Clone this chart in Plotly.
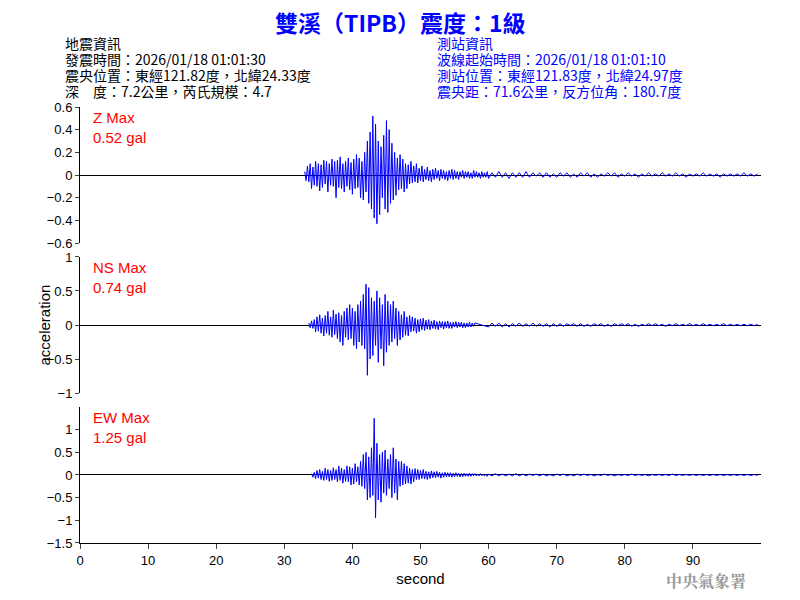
import numpy as np
import plotly.graph_objects as go

# seismogram: peak values, 0.2 s apart from onset to 60 s, then 0.5 s apart
main_step = 0.2
coda_step = 0.5
coda_start = 60.0

z_onset = 33.0
z_main = [
    0.03, -0.05, 0.08, -0.06, 0.1, -0.12, 0.07, -0.09, 0.12, -0.1,
    0.1, -0.14, 0.09, -0.11, 0.13, -0.08, 0.12, -0.15, 0.1, -0.09,
    0.14, -0.1, 0.12, -0.2, 0.13, -0.11, 0.16, -0.12, 0.1, -0.15,
    0.12, -0.1, 0.15, -0.13, 0.11, -0.17, 0.14, -0.12, 0.18, -0.11,
    0.15, -0.2, 0.12, -0.22, 0.2, -0.15, 0.3, -0.25, 0.38, -0.3,
    0.52, -0.38, 0.45, -0.43, 0.3, -0.35, 0.25, -0.2, 0.35, -0.3,
    0.48, -0.33, 0.4, -0.25, 0.28, -0.22, 0.2, -0.18, 0.15, -0.13,
    0.18, -0.12, 0.14, -0.15, 0.1, -0.12, 0.09, -0.08, 0.12, -0.07,
    0.08, -0.06, 0.1, -0.07, 0.06, -0.05, 0.08, -0.06, 0.05, -0.04,
    0.07, -0.05, 0.04, -0.06, 0.05, -0.04, 0.06, -0.03, 0.04, -0.05,
    0.05, -0.03, 0.04, -0.04, 0.03, -0.05, 0.04, -0.03, 0.05, -0.04,
    0.04, -0.03, 0.03, -0.04, 0.03, -0.02, 0.04, -0.03, 0.03, -0.02,
    0.03, -0.03, 0.02, -0.03, 0.04, -0.02, 0.03, -0.02, 0.02, -0.03,
    0.03, -0.02, 0.02, -0.02, 0.03,
]
z_coda = [
    -0.03, 0.02, -0.02, 0.03, -0.02, 0.02, -0.03, 0.02, -0.02, 0.02,
    -0.02, 0.03, -0.02, 0.02, -0.01, 0.02, -0.02, 0.02, -0.02, 0.01,
    -0.02, 0.02, -0.01, 0.02, -0.02, 0.01, -0.02, 0.02, -0.01, 0.02,
    -0.02, 0.01, -0.02, 0.01, -0.01, 0.02, -0.01, 0.02, -0.02, 0.01,
    -0.01, 0.02, -0.01, 0.01, -0.02, 0.01, -0.01, 0.02, -0.01, 0.01,
    -0.01, 0.02, -0.01, 0.01, -0.01, 0.02, -0.01, 0.01, -0.02, 0.01,
    -0.01, 0.01, -0.01, 0.02, -0.01, 0.01, -0.01, 0.01, -0.02, 0.01,
    -0.01, 0.01, -0.01, 0.01, -0.01, 0.02, -0.01, 0.01, -0.01, 0.01,
]

ns_onset = 33.6
ns_main = [
    0.03, -0.04, 0.06, -0.05, 0.08, -0.1, 0.12, -0.09, 0.15, -0.12,
    0.1, -0.16, 0.14, -0.12, 0.2, -0.15, 0.12, -0.18, 0.22, -0.14,
    0.16, -0.2, 0.18, -0.25, 0.14, -0.3, 0.2, -0.18, 0.25, -0.22,
    0.3, -0.2, 0.25, -0.3, 0.2, -0.35, 0.3, -0.25, 0.35, -0.3,
    0.45, -0.35, 0.6, -0.74, 0.55, -0.5, 0.4, -0.45, 0.35, -0.3,
    0.5, -0.55, 0.4, -0.35, 0.3, -0.6, 0.45, -0.4, 0.35, -0.3,
    0.3, -0.25, 0.35, -0.2, 0.25, -0.3, 0.2, -0.22, 0.15, -0.18,
    0.2, -0.15, 0.12, -0.16, 0.14, -0.1, 0.12, -0.09, 0.1, -0.12,
    0.08, -0.1, 0.09, -0.07, 0.1, -0.08, 0.07, -0.06, 0.08, -0.07,
    0.06, -0.05, 0.07, -0.06, 0.05, -0.07, 0.06, -0.04, 0.05, -0.06,
    0.05, -0.04, 0.06, -0.05, 0.04, -0.05, 0.04, -0.03, 0.05, -0.04,
    0.04, -0.03, 0.04, -0.04, 0.03, -0.04, 0.03, -0.03, 0.04, -0.03,
    0.03, -0.02, 0.03,
]
ns_coda = [
    -0.03, 0.03, -0.02, 0.03, -0.03, 0.02, -0.03, 0.02, -0.02, 0.03,
    -0.02, 0.02, -0.02, 0.03, -0.02, 0.02, -0.02, 0.02, -0.03, 0.02,
    -0.02, 0.02, -0.02, 0.02, -0.01, 0.02, -0.02, 0.02, -0.02, 0.01,
    -0.02, 0.02, -0.01, 0.02, -0.02, 0.01, -0.02, 0.02, -0.01, 0.02,
    -0.01, 0.02, -0.02, 0.01, -0.02, 0.01, -0.01, 0.02, -0.01, 0.02,
    -0.01, 0.01, -0.02, 0.01, -0.01, 0.02, -0.01, 0.01, -0.01, 0.02,
    -0.01, 0.01, -0.01, 0.02, -0.01, 0.01, -0.01, 0.01, -0.01, 0.02,
    -0.01, 0.01, -0.01, 0.01, -0.01, 0.01, -0.01, 0.01, -0.01, 0.01,
]

ew_onset = 34.0
ew_main = [
    0.03, -0.05, 0.06, -0.08, 0.1, -0.07, 0.12, -0.1, 0.08, -0.12,
    0.15, -0.1, 0.12, -0.14, 0.1, -0.12, 0.16, -0.1, 0.12, -0.15,
    0.2, -0.12, 0.15, -0.18, 0.12, -0.14, 0.2, -0.15, 0.18, -0.22,
    0.15, -0.2, 0.25, -0.15, 0.18, -0.22, 0.3, -0.25, 0.45, -0.3,
    0.5, -0.55, 0.4, -0.5, 0.6, -0.45, 1.25, -0.95, 0.7, -0.55,
    0.45, -0.6, 0.5, -0.4, 0.55, -0.45, 0.35, -0.3, 0.45, -0.5,
    0.6, -0.4, 0.35, -0.55, 0.3, -0.25, 0.3, -0.22, 0.25, -0.2,
    0.2, -0.18, 0.15, -0.2, 0.12, -0.15, 0.14, -0.1, 0.12, -0.1,
    0.1, -0.08, 0.12, -0.09, 0.08, -0.1, 0.07, -0.08, 0.09, -0.06,
    0.07, -0.06, 0.08, -0.05, 0.06, -0.07, 0.05, -0.05, 0.06, -0.04,
    0.05, -0.04, 0.05, -0.05, 0.04, -0.04, 0.05, -0.03, 0.04, -0.04,
    0.03, -0.04, 0.04, -0.03, 0.03, -0.03, 0.04, -0.03, 0.03, -0.02,
    0.03, -0.02, 0.02, -0.02, 0.03, -0.02, 0.02, -0.02, 0.02, -0.03,
]
ew_coda = [
    0.02, -0.02, 0.03, -0.02, 0.02, -0.02, 0.02, -0.02, 0.03, -0.02,
    0.02, -0.02, 0.02, -0.01, 0.02, -0.02, 0.02, -0.02, 0.01, -0.02,
    0.02, -0.01, 0.02, -0.02, 0.01, -0.02, 0.02, -0.01, 0.02, -0.01,
    0.01, -0.02, 0.01, -0.01, 0.02, -0.01, 0.01, -0.02, 0.01, -0.01,
    0.01, -0.01, 0.02, -0.01, 0.01, -0.01, 0.01, -0.02, 0.01, -0.01,
    0.01, -0.01, 0.01, -0.01, 0.02, -0.01, 0.01, -0.01, 0.01, -0.01,
    0.01, -0.01, 0.01, -0.01, 0.01, -0.01, 0.01, -0.01, 0.01, -0.01,
    0.01, -0.01, 0.01, -0.01, 0.01, -0.01, 0.01, -0.01, 0.01, -0.01,
]

channels = ["Z", "NS", "EW"]
max_gal = ["0.52", "0.74", "1.25"]
y_ranges = [(-0.6, 0.6), (-1, 1), (-1.5, 1.5)]
y_ticks = [[-0.6, -0.4, -0.2, 0, 0.2, 0.4, 0.6], [-1, -0.5, 0, 0.5, 1], [-1.5, -1, -0.5, 0, 0.5, 1]]
x_ticks = [0, 10, 20, 30, 40, 50, 60, 70, 80, 90]

quake_info = ["地震資訊", "發震時間：2026/01/18 01:01:30",
              "震央位置：東經121.82度，北緯24.33度", "深　度：7.2公里，芮氏規模：4.7"]
station_info = ["測站資訊", "波線起始時間：2026/01/18 01:01:10",
                "測站位置：東經121.83度，北緯24.97度", "震央距：71.6公里，反方位角：180.7度"]


def build_trace(onset, main, coda):
    t_main = onset + main_step * np.arange(len(main))
    t_coda = coda_start + coda_step * np.arange(len(coda))
    keep = t_main < coda_start
    t = np.concatenate([t_main[keep], t_coda])
    v = np.concatenate([np.array(main)[keep], coda])
    return t, v


series = [build_trace(z_onset, z_main, z_coda),
          build_trace(ns_onset, ns_main, ns_coda),
          build_trace(ew_onset, ew_main, ew_coda)]

# the page body adds an 8px offset, so the figure is drawn 16px smaller
OFF = 8
PLOT_L, PLOT_R, PLOT_T, PLOT_B = 80, 761, 107, 543
domains = [(0.688, 1.0), (0.344, 0.656), (0.0, 0.312)]
font = "Liberation Sans, Arial, sans-serif"
cjk = "Noto Sans CJK TC, sans-serif"


def paper_x(px):
    return (px - PLOT_L) / (PLOT_R - PLOT_L)


def paper_y(py):
    return (PLOT_B - py) / (PLOT_B - PLOT_T)


fig = go.Figure()
layout = dict(
    width=800 - 2 * OFF, height=600 - 2 * OFF, showlegend=False,
    paper_bgcolor="white", plot_bgcolor="white",
    margin=dict(l=PLOT_L - OFF, r=800 - OFF - PLOT_R, t=PLOT_T - OFF, b=600 - OFF - PLOT_B,
                autoexpand=False),
    font=dict(family=font, size=13, color="black"),
)
annotations = []
for i, (t, v) in enumerate(series):
    ax = "" if i == 0 else str(i + 1)
    fig.add_trace(go.Scatter(x=t, y=v, mode="lines", line=dict(color="#0000ff", width=1),
                             xaxis="x" + ax, yaxis="y" + ax))
    layout["xaxis" + ax] = dict(
        domain=[0, 1], range=[0, 100], anchor="y" + ax, automargin=False,
        showgrid=False, zeroline=False, showline=(i == 2), linecolor="black",
        ticks="outside" if i == 2 else "", tickvals=x_ticks, showticklabels=(i == 2),
        tickfont=dict(size=13), matches="x" if i else None,
    )
    layout["yaxis" + ax] = dict(
        domain=list(domains[i]), range=list(y_ranges[i]), anchor="x" + ax, automargin=False,
        showgrid=False, zeroline=True, zerolinecolor="black", zerolinewidth=1,
        showline=True, linecolor="black", ticks="outside", ticklen=4,
        tickvals=y_ticks[i], tickfont=dict(size=13),
    )
    annotations.append(dict(xref="paper", yref="paper", x=0.016, y=domains[i][1],
                            xanchor="left", yanchor="top", align="left", showarrow=False,
                            text=f"{channels[i]} Max<br>{max_gal[i]} gal",
                            font=dict(color="red", size=15, family=font)))
layout["xaxis3"]["title"] = dict(text="second", font=dict(size=15), standoff=6)
fig.update_layout(**layout)

annotations.append(dict(xref="paper", yref="paper", x=paper_x(33), y=0.5, textangle=-90,
                        showarrow=False, text="acceleration", font=dict(size=15)))
annotations.append(dict(xref="paper", yref="paper", x=paper_x(400), y=paper_y(22),
                        yanchor="middle", showarrow=False,
                        text="<b>雙溪（TIPB）震度：1級</b>",
                        font=dict(color="#0000ff", size=23, family=cjk)))
for k, (left, right) in enumerate(zip(quake_info, station_info)):
    row = paper_y(43 + 16 * k)
    annotations.append(dict(xref="paper", yref="paper", x=paper_x(63), y=row,
                            xanchor="left", yanchor="middle", showarrow=False,
                            text=left, font=dict(size=14, family=cjk)))
    annotations.append(dict(xref="paper", yref="paper", x=paper_x(435), y=row,
                            xanchor="left", yanchor="middle", showarrow=False,
                            text=right, font=dict(size=14, color="#0000ff", family=cjk)))
annotations.append(dict(xref="paper", yref="paper", x=paper_x(748), y=paper_y(580),
                        xanchor="right", yanchor="middle", showarrow=False,
                        text="<b>中央氣象署</b>",
                        font=dict(size=16, color="#999999", family="Noto Serif CJK TC, serif")))
fig.update_layout(annotations=annotations)

fig.write_html("out.html")
